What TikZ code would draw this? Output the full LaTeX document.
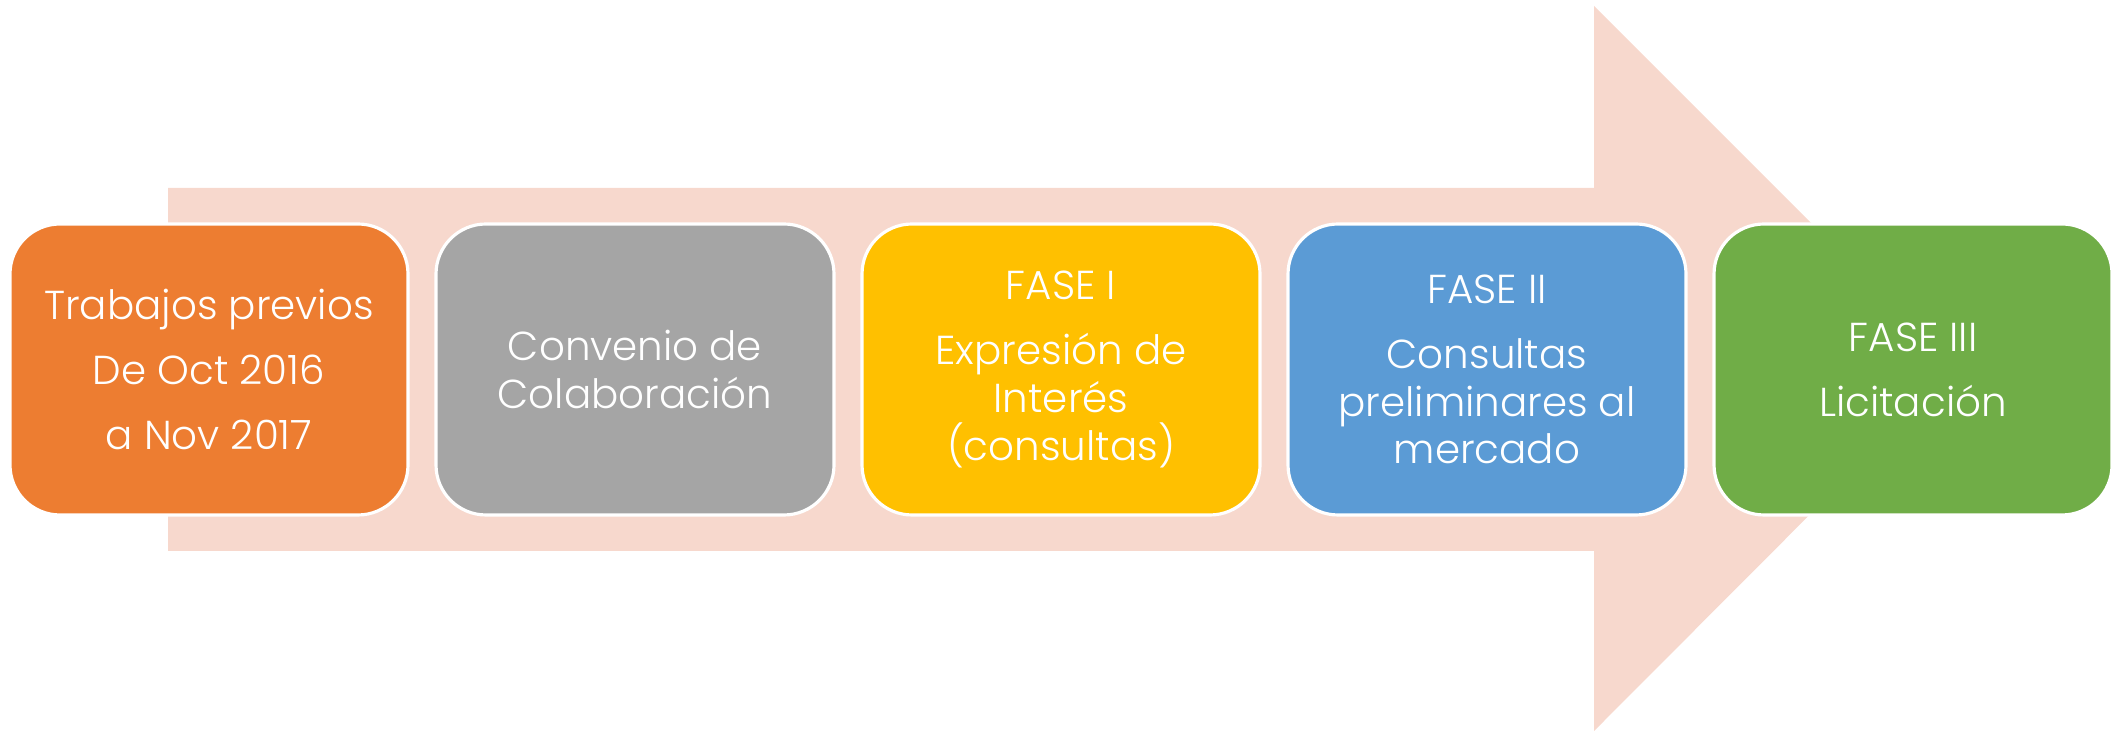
\documentclass[tikz,border=0pt]{standalone}
\usepackage{fontspec}
\setmainfont{Poppins}[UprightFont=* Light]
\usepackage{xcolor}
\usepackage{tikz}
\usetikzlibrary{positioning}
\definecolor{arrowbg}{HTML}{F7D8CD}
\definecolor{faseorange}{HTML}{ED7D31}
\definecolor{fasegray}{HTML}{A5A5A5}
\definecolor{faseyellow}{HTML}{FFC000}
\definecolor{faseblue}{HTML}{5B9BD5}
\definecolor{fasegreen}{HTML}{70AD47}

\begin{document}
\begin{tikzpicture}[
        node distance=0.28cm,
        fase/.style={
            rectangle,
            draw=white,
            line width=0.9pt,
            text=white,
            align=center,
            rounded corners=0.5cm,
            font=\fontsize{11.5}{13.6}\selectfont,
            minimum width=3.98cm,
            minimum height=2.91cm,
            inner sep=0pt,
            outer sep=0pt,
            anchor=center
        }
    ]
        \useasboundingbox (0,0) rectangle (21.17,7.31);

        % Background arrow
        \fill[arrowbg] (1.68,5.43) -- (15.94,5.43) -- (15.94,7.25) -- (19.56,3.63)
            -- (15.94,0) -- (15.94,1.80) -- (1.68,1.80) -- cycle;

        % Phases
        \node (f1) [fase, fill=faseorange] at (2.09,3.615)
            {Trabajos previos\\[0.17cm]De Oct 2016\\[0.17cm]a Nov 2017};
        \node (f2) [fase, fill=fasegray, right=of f1]
            {Convenio de\\Colaboración};
        \node (f3) [fase, fill=faseyellow, right=of f2]
            {FASE I\\[0.17cm]Expresión de\\Interés\\(consultas)};
        \node (f4) [fase, fill=faseblue, right=of f3]
            {FASE II\\[0.17cm]Consultas\\preliminares al\\mercado};
        \node (f5) [fase, fill=fasegreen, right=of f4]
            {FASE III\\[0.17cm]Licitación};

    \end{tikzpicture}
\end{document}
